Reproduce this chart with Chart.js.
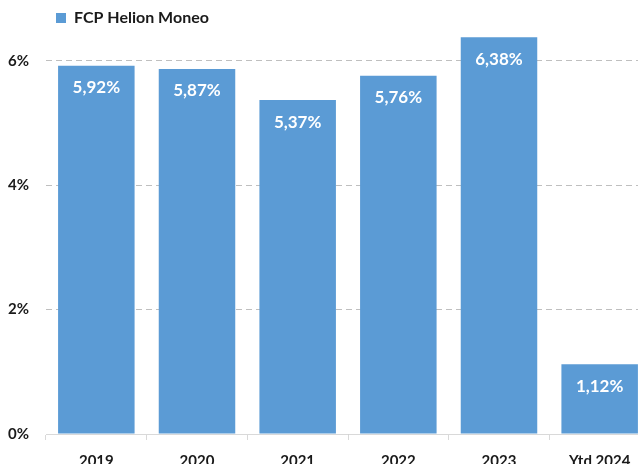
<!DOCTYPE html>
<html>
<head>
<meta charset="utf-8">
<script src="https://cdn.jsdelivr.net/npm/chart.js@4.4.1/dist/chart.umd.min.js"></script>
<style>
  html, body { margin: 0; padding: 0; background: #fff; overflow: hidden; }
  #wrap { position: relative; width: 652px; height: 474px; }
</style>
</head>
<body>
<div id="wrap"><canvas id="chart"></canvas></div>
<script>
// ---------- data ----------
const categories = ['2019', '2020', '2021', '2022', '2023', 'Ytd 2024'];
const returns = [5.92, 5.87, 5.37, 5.76, 6.38, 1.12];
const yTicks = [0, 2, 4, 6];
const seriesName = 'FCP Helion Moneo';

const BAR = '#5b9bd5';
const TEXT = '#1a1a1a';
const FONT = 'Lato, "Open Sans", sans-serif';

// valeurs en blanc à l'intérieur du haut de chaque barre
const valueLabels = {
  id: 'valueLabels',
  afterDatasetsDraw(chart) {
    const { ctx } = chart;
    const meta = chart.getDatasetMeta(0);
    ctx.save();
    ctx.fillStyle = '#fff';
    ctx.font = 'bold 17px ' + FONT;
    ctx.textAlign = 'center';
    ctx.textBaseline = 'middle';
    meta.data.forEach((bar, i) => {
      const txt = returns[i].toFixed(2).replace('.', ',') + '%';
      ctx.fillText(txt, bar.x, bar.y + 22);
    });
    ctx.restore();
  }
};

// légende décalée au-dessus de la première barre
const shiftLegend = {
  id: 'shiftLegend',
  afterLayout(chart) {
    if (chart.legend) chart.legend.left = 46;
  }
};

new Chart(document.getElementById('chart'), {
  type: 'bar',
  data: {
    labels: categories,
    datasets: [{
      label: seriesName,
      data: returns,
      backgroundColor: BAR,
      barPercentage: 0.76,
      categoryPercentage: 1
    }]
  },
  options: {
    responsive: true,
    maintainAspectRatio: false,
    animation: false,
    layout: { padding: { right: 2 } },
    plugins: {
      legend: {
        display: true,
        position: 'top',
        align: 'start',
        labels: {
          boxWidth: 10,
          boxHeight: 10,
          padding: 10,
          color: TEXT,
          font: { family: FONT, size: 16, weight: 'bold' }
        }
      },
      tooltip: { enabled: false }
    },
    scales: {
      x: {
        grid: {
          offset: true,
          drawOnChartArea: false,
          drawTicks: true,
          tickLength: 6,
          color: '#d9d9d9'
        },
        border: { display: true, color: '#d9d9d9' },
        ticks: {
          color: TEXT,
          padding: 12,
          font: { family: FONT, size: 15, weight: 'bold' }
        },
        afterFit: (s) => { s.height = 40; }
      },
      y: {
        min: 0,
        max: 6.4,
        grid: {
          drawTicks: false,
          color: '#bfbfbf',
          lineWidth: 1
        },
        border: { display: false, dash: [6, 4] },
        ticks: {
          color: TEXT,
          padding: 17,
          font: { family: FONT, size: 15, weight: 'bold' },
          callback: (v) => v + '%'
        },
        afterBuildTicks: (s) => { s.ticks = yTicks.map((v) => ({ value: v })); },
        afterFit: (s) => { s.width = 46; }
      }
    }
  },
  plugins: [valueLabels, shiftLegend]
});
</script>
</body>
</html>
